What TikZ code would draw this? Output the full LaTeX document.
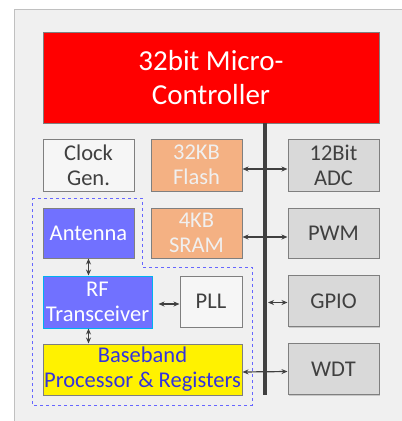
\documentclass[tikz,border=0pt]{standalone}
\usepackage{fontspec}
\setmainfont{Carlito}
\usetikzlibrary{shapes, arrows, arrows.meta, shadows}
\definecolor{panelgrey}{HTML}{F0F0F0}
\definecolor{panelline}{HTML}{C0C0C0}
\definecolor{boxline}{HTML}{7F7F7F}
\definecolor{textgrey}{HTML}{404040}
\definecolor{flashorange}{HTML}{F4B183}
\definecolor{periphgrey}{HTML}{D9D9D9}
\definecolor{rfblue}{HTML}{7171FF}
\definecolor{rfline}{HTML}{00B0F0}
\definecolor{bbtext}{HTML}{3333DD}
\definecolor{dashblue}{HTML}{6666FF}
\tikzstyle{block} = [rectangle, minimum width=91pt, minimum height=52pt, inner sep=0pt, text centered, align=center, draw=boxline, line width=1pt, font=\fontsize{22.5}{25}\selectfont, drop shadow={shadow xshift=1.2pt, shadow yshift=-1.2pt, opacity=0.35}]
\tikzstyle{cpu} = [block, minimum width=336pt, minimum height=91pt, fill=red, text=white, font=\fontsize{29}{34}\selectfont]
\tikzstyle{memory} = [block, fill=flashorange, text=panelgrey]
\tikzstyle{periph} = [block, fill=periphgrey, text=textgrey]
\tikzstyle{plain} = [block, fill=panelgrey!60!white, text=textgrey]
\tikzstyle{radio} = [block, fill=rfblue, text=white]
\tikzstyle{arrow} = [line width=1.2pt, {Stealth[length=6pt,width=5pt]}-{Stealth[length=6pt,width=5pt]}, draw=textgrey]
\tikzstyle{bus} = [line width=4pt, draw=textgrey]

\begin{document}
\begin{tikzpicture}[x=1pt, y=-1pt, node distance=68pt]
    \useasboundingbox (0,0) rectangle (402,421);
    \draw [fill=panelgrey, draw=panelline, line width=1pt] (14,9) rectangle (420,440);

    % blocks
    \node (mcu) [cpu] at (211,77.5) {32bit Micro-\\Controller};
    \node (clock) [plain] at (88.5,165) {Clock\\Gen.};
    \node (flash) [memory] at (196.5,165) {32KB\\Flash};
    \node (adc) [periph] at (333.5,165) {12Bit\\ADC};
    \node (antenna) [radio, minimum height=50pt, below of=clock] {Antenna};
    \node (sram) [memory, minimum height=50pt, below of=flash] {4KB\\SRAM};
    \node (pwm) [periph, minimum height=50pt, below of=adc] {PWM};
    \node (rf) [radio, draw=rfline, minimum width=109pt] at (97.5,302) {RF\\Transceiver};
    \node (pll) [plain, minimum width=62pt, minimum height=51pt] at (211,301.5) {PLL};
    \node (gpio) [periph, minimum height=51pt, below of=pwm] {GPIO};
    \node (bb) [block, fill=yellow, text=bbtext, minimum width=199pt, minimum height=51pt] at (142.5,369.5) {Baseband\\Processor \& Registers};
    \node (wdt) [periph, minimum height=51pt, below of=gpio] {WDT};

    % bus
    \coordinate (bustop) at (265,123);
    \coordinate (busend) at (265,395);
    \draw [bus] (bustop) -- (busend);

    % radio group
    \draw [dashblue, dashed, line width=0.8pt] (32,198) -- (142,198) -- (142,267) -- (252,267) -- (252,405) -- (32,405) -- cycle;

    \draw [arrow] ([yshift=-4pt]flash.east) -- ([yshift=-4pt]adc.west);
    \draw [arrow] ([yshift=-4pt]sram.east) -- ([yshift=-4pt]pwm.west);
    \draw [arrow, shorten <=6pt] ([yshift=-2pt]rf.east) -- ([yshift=-2pt]rf.east -| pll.west);
    \draw [arrow, shorten <=3pt] ([yshift=-1.5pt]gpio.west -| bustop) -- ([yshift=-1.5pt]gpio.west);
    \draw [arrow] ([yshift=-2.5pt]bb.east) -- ([yshift=-2.5pt]wdt.west);
    \draw [arrow] (antenna.south) -- (antenna.south |- rf.north);
    \draw [arrow] (rf.south -| antenna.south) -- (bb.north -| antenna.south);
\end{tikzpicture}
\end{document}
